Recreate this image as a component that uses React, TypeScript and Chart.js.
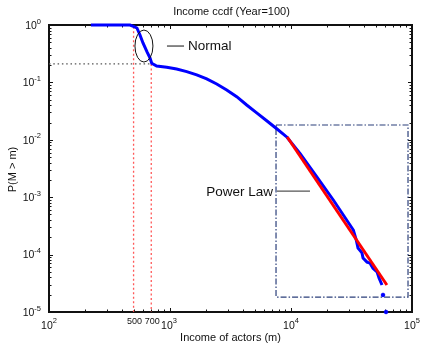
import { useEffect, useRef } from "react";
import { Chart, registerables } from "chart.js";
Chart.register(...registerables);

// Empirical ccdf of income (blue)
const ccdfX = [222, 467, 504, 533, 565, 598, 646, 684, 706, 776, 940, 1135, 1374, 1663, 2011, 2432, 2942, 3558, 4303, 5207, 6299, 7620, 9270, 11860, 16290, 22370, 32750, 34500, 35800, 38600, 39400, 42500, 45000, 47600, 51400, 53400, 56500];
const ccdfY = [1, 1, 0.94, 0.886, 0.67, 0.486, 0.339, 0.266, 0.215, 0.193, 0.183, 0.171, 0.154, 0.135, 0.115, 0.0938, 0.0738, 0.0564, 0.0404, 0.0295, 0.0215, 0.0156, 0.0111, 0.00582, 0.00228, 0.000894, 0.000268, 0.000185, 0.00013, 0.000107, 0.000087, 0.000074, 0.000071, 0.000058, 0.00005, 0.000039, 0.0000295];
// Isolated tail samples
const tailX = [57600, 61000];
const tailY = [0.0000198, 0.00001];
// Power-law fit (red)
const fitX = [9300, 62000];
const fitY = [0.0112, 0.0000295];
// Guides
const markX = [500, 700];
const markTop = [0.93, 0.21];
const guideY = 0.21;
// Power-law region box
const boxX = [7520, 92700];
const boxY = [0.0000182, 0.0181];
// Ticks
const xTickVals = [100, 1000, 10000, 100000];
const xTickExp = ["2", "3", "4", "5"];
const yTickVals = [1, 0.1, 0.01, 0.001, 0.0001, 0.00001];
const yTickExp = ["0", "-1", "-2", "-3", "-4", "-5"];
const markLabels = ["500", "700"];
// Annotation anchors
const normalAnchor = { x: 609, y: 0.43 };
const normalLine = [944, 1306];
const powerAnchorY = 0.00128;
const powerLine = [7650, 14350];

const FONT = '"Liberation Sans", Arial, Helvetica, sans-serif';

function drawPow(ctx: CanvasRenderingContext2D, exp: string, x: number, y: number, align: "center" | "right", raise: number) {
  ctx.font = `10.5px ${FONT}`;
  const wb = ctx.measureText("10").width;
  ctx.font = `7.5px ${FONT}`;
  const we = ctx.measureText(exp).width;
  const total = wb + we;
  const sx = align === "center" ? x - total / 2 : x - total;
  ctx.textAlign = "left";
  ctx.textBaseline = "middle";
  ctx.font = `10.5px ${FONT}`;
  ctx.fillText("10", sx, y);
  ctx.font = `7.5px ${FONT}`;
  ctx.fillText(exp, sx + wb, y - raise);
}

const overlay = {
  id: "overlay",
  beforeDatasetsDraw(chart: any) {
    const ctx: CanvasRenderingContext2D = chart.ctx;
    const { left, right, top, bottom } = chart.chartArea;
    const xs = chart.scales.x;
    const ys = chart.scales.y;
    ctx.save();
    ctx.strokeStyle = "#111";
    ctx.lineWidth = 1;
    for (let d = 2; d <= 5; d++) {
      for (let k = 1; k <= 9; k++) {
        const v = k * Math.pow(10, d);
        if (v > 100000) continue;
        const px = Math.round(xs.getPixelForValue(v)) + 0.5;
        const len = k === 1 ? 4 : 2.5;
        ctx.beginPath();
        ctx.moveTo(px, bottom);
        ctx.lineTo(px, bottom - len);
        ctx.moveTo(px, top);
        ctx.lineTo(px, top + len);
        ctx.stroke();
      }
    }
    for (let d = -5; d <= 0; d++) {
      for (let k = 1; k <= 9; k++) {
        const v = k * Math.pow(10, d);
        if (v > 1) continue;
        const py = Math.round(ys.getPixelForValue(v)) + 0.5;
        const len = k === 1 ? 4 : 2.5;
        ctx.beginPath();
        ctx.moveTo(left, py);
        ctx.lineTo(left + len, py);
        ctx.moveTo(right, py);
        ctx.lineTo(right - len, py);
        ctx.stroke();
      }
    }
    ctx.lineWidth = 2;
    ctx.strokeStyle = "#111";
    ctx.strokeRect(left, top, right - left, bottom - top);
    ctx.restore();
  },
  afterDraw(chart: any) {
    const ctx: CanvasRenderingContext2D = chart.ctx;
    const { left, right, top, bottom } = chart.chartArea;
    const xs = chart.scales.x;
    const ys = chart.scales.y;
    ctx.save();
    ctx.fillStyle = "#111";
    xTickVals.forEach((v, i) => {
      drawPow(ctx, xTickExp[i], xs.getPixelForValue(v) + (i === 1 ? -1 : 0), bottom + 14, "center", 5);
    });
    yTickVals.forEach((v, i) => {
      drawPow(ctx, yTickExp[i], left - 8, ys.getPixelForValue(v) + 1, "right", 4.5);
    });
    ctx.font = `9px ${FONT}`;
    ctx.textAlign = "center";
    ctx.textBaseline = "middle";
    markX.forEach((v, i) => {
      ctx.fillText(markLabels[i], xs.getPixelForValue(v) + 1, bottom + 10);
    });
    ctx.font = `11px ${FONT}`;
    ctx.textAlign = "center";
    ctx.textBaseline = "middle";
    ctx.fillText("Income ccdf (Year=100)", (left + right) / 2 + 1, 12);
    ctx.fillText("Income of actors (m)", (left + right) / 2, 338);
    ctx.save();
    ctx.translate(12.5, (top + bottom) / 2 + 1);
    ctx.rotate(-Math.PI / 2);
    ctx.fillText("P(M > m)", 0, 0);
    ctx.restore();
    const ex = xs.getPixelForValue(normalAnchor.x);
    const ey = ys.getPixelForValue(normalAnchor.y);
    ctx.strokeStyle = "#111";
    ctx.lineWidth = 1;
    ctx.beginPath();
    ctx.ellipse(ex, ey, 9, 16, 0, 0, Math.PI * 2);
    ctx.stroke();
    ctx.beginPath();
    ctx.moveTo(xs.getPixelForValue(normalLine[0]), ey);
    ctx.lineTo(xs.getPixelForValue(normalLine[1]), ey);
    ctx.stroke();
    ctx.font = `13.5px ${FONT}`;
    ctx.textAlign = "left";
    ctx.fillText("Normal", xs.getPixelForValue(normalLine[1]) + 4, ey);
    const py = ys.getPixelForValue(powerAnchorY);
    ctx.strokeStyle = "#555";
    ctx.lineWidth = 1.2;
    ctx.beginPath();
    ctx.moveTo(xs.getPixelForValue(powerLine[0]), py);
    ctx.lineTo(xs.getPixelForValue(powerLine[1]), py);
    ctx.stroke();
    ctx.textAlign = "right";
    ctx.fillText("Power Law", xs.getPixelForValue(powerLine[0]) - 4, py + 1);
    ctx.restore();
  },
};

export default function App() {
  const ref = useRef<HTMLCanvasElement>(null);
  useEffect(() => {
    const pts = (xa: number[], ya: number[]) => xa.map((x, i) => ({ x, y: ya[i] }));
    const chart = new Chart(ref.current!, {
      type: "scatter",
      data: {
        datasets: [
          {
            data: pts(fitX, fitY),
            showLine: true,
            borderColor: "#ff0000",
            borderWidth: 3,
            pointRadius: 0,
            order: 0,
          },
          {
            data: pts(ccdfX, ccdfY),
            showLine: true,
            borderColor: "#0000ff",
            borderWidth: 3,
            pointRadius: 0,
            clip: 4,
            order: 1,
          },
          {
            data: pts(tailX, tailY),
            showLine: false,
            backgroundColor: "#0000ff",
            borderColor: "#0000ff",
            pointRadius: 1.8,
            clip: 5,
            order: 1,
          },
          {
            data: [
              { x: boxX[0], y: boxY[1] },
              { x: boxX[1], y: boxY[1] },
              { x: boxX[1], y: boxY[0] },
              { x: boxX[0], y: boxY[0] },
              { x: boxX[0], y: boxY[1] },
            ],
            showLine: true,
            borderColor: "#2b3f7a",
            borderWidth: 1.2,
            borderDash: [6, 2, 1.5, 2],
            pointRadius: 0,
            order: 2,
          },
          {
            data: [
              { x: 100, y: guideY },
              { x: markX[1], y: guideY },
            ],
            showLine: true,
            borderColor: "#555",
            borderWidth: 1.2,
            borderDash: [1.5, 2.8],
            pointRadius: 0,
            order: 3,
          },
          ...markX.map((mx, i) => ({
            data: [
              { x: mx, y: markTop[i] },
              { x: mx, y: 0.00001 },
            ],
            showLine: true,
            borderColor: "rgba(255,70,70,0.9)",
            borderWidth: 1.3,
            borderDash: [2, 2.5],
            pointRadius: 0,
            order: 3,
          })),
        ],
      },
      options: {
        responsive: false,
        animation: false,
        devicePixelRatio: 1,
        layout: { padding: { left: 49, top: 25, right: 11, bottom: 31 } },
        elements: { line: { tension: 0 } },
        plugins: { legend: { display: false }, tooltip: { enabled: false }, title: { display: false } },
        scales: {
          x: { type: "logarithmic", min: 100, max: 100000, display: false },
          y: { type: "logarithmic", min: 0.00001, max: 1, display: false },
        },
      } as any,
      plugins: [overlay],
    });
    return () => chart.destroy();
  }, []);
  return (
    <div style={{ position: "fixed", left: 0, top: 0, width: 423, height: 343, background: "#fff" }}>
      <canvas ref={ref} width={423} height={343} style={{ display: "block", width: 423, height: 343 }} />
    </div>
  );
}
